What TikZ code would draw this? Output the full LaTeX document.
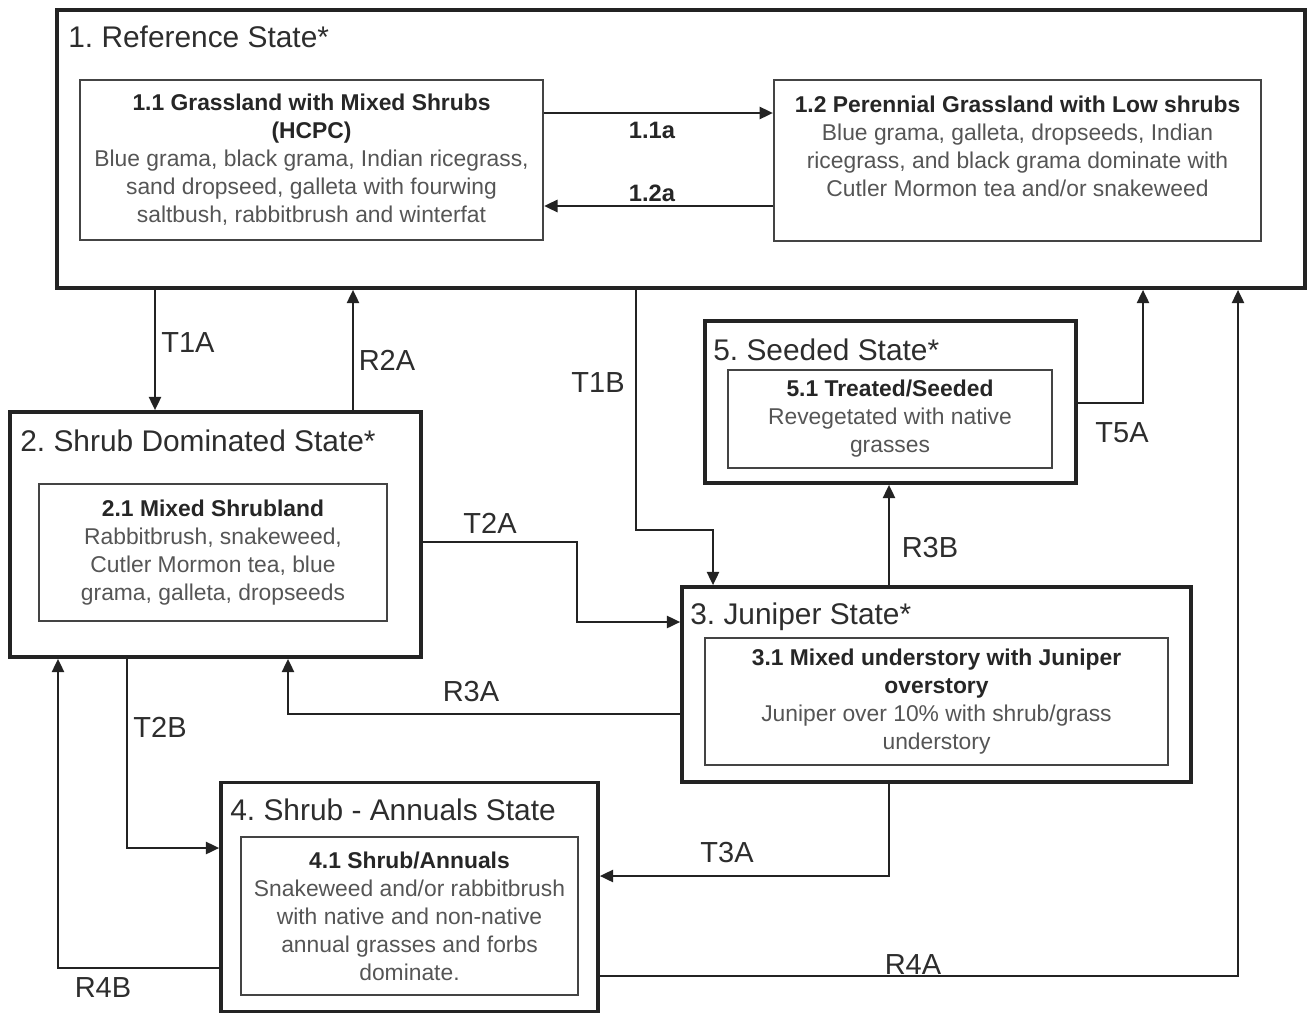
\documentclass[tikz,border=0pt]{standalone}
\usepackage{fontspec}
\setmainfont{Liberation Sans}
\usetikzlibrary{arrows.meta, positioning}
\definecolor{linegray}{RGB}{35,35,35}
\definecolor{bodygray}{RGB}{85,85,85}
\definecolor{titlegray}{RGB}{45,45,45}
\newcommand{\phasehead}[1]{{\bfseries\color{black!85}#1}}
\frenchspacing

\begin{document}
\begin{tikzpicture}[
        x=0.02cm, y=-0.02cm,
        statebox/.style={rectangle, draw=linegray, line width=2pt, inner sep=0pt},
        phasebox/.style={rectangle, draw=linegray!85, line width=1.2pt, align=center, inner sep=2pt, text=bodygray, font=\fontsize{13}{15.9}\selectfont},
        statetitle/.style={anchor=base west, inner sep=0pt, text=titlegray, font=\fontsize{17}{20}\selectfont},
        trans/.style={draw=linegray, line width=1.6pt, -{Triangle[length=0.27cm, width=0.24cm]}},
        translabel/.style={inner sep=0pt, text=titlegray, font=\fontsize{16.5}{20}\selectfont},
        phaselabel/.style={inner sep=0pt, text=black!85, font=\fontsize{13.5}{16}\selectfont\bfseries}
    ]
    \useasboundingbox (0,0) rectangle (1311,1014);

    % states
    \node[statebox, minimum width=24.96cm, minimum height=5.56cm] (s1) at (681,149) {};
    \node[statebox, minimum width=8.22cm, minimum height=4.9cm] (s2) at (215.5,534.5) {};
    \node[statebox, minimum width=10.18cm, minimum height=3.9cm] (s3) at (936.5,684.5) {};
    \node[statebox, minimum width=7.54cm, minimum height=4.58cm] (s4) at (409.5,897) {};
    \node[statebox, minimum width=7.42cm, minimum height=3.24cm] (s5) at (890.5,402) {};

    \node[statetitle] (s1t) at (68,47) {1. Reference State*};
    \node[statetitle] (s2t) at (20,451) {2. Shrub Dominated State*};
    \node[statetitle] (s3t) at (690,624) {3. Juniper State*};
    \node[statetitle] (s4t) at (230,820) {4. Shrub - Annuals State};
    \node[statetitle] (s5t) at (713,360) {5. Seeded State*};

    % community phases
    \node[phasebox, minimum width=9.26cm, minimum height=3.2cm] (p11) at (311.5,160) {\phasehead{1.1 Grassland with Mixed Shrubs}\\\phasehead{(HCPC)}\\Blue grama, black grama, Indian ricegrass,\\sand dropseed, galleta with fourwing\\saltbush, rabbitbrush and winterfat};
    \node[phasebox, minimum width=9.74cm, minimum height=3.22cm] (p12) at (1017.5,160.5) {};
    \node[phasebox, draw=none, anchor=north, inner sep=0pt] (p12t) at (1017.5,95) {\phasehead{1.2 Perennial Grassland with Low shrubs}\\Blue grama, galleta, dropseeds, Indian\\ricegrass, and black grama dominate with\\Cutler Mormon tea and/or snakeweed};
    \node[phasebox, minimum width=6.96cm, minimum height=2.74cm] (p21) at (213,552.5) {\phasehead{2.1 Mixed Shrubland}\\Rabbitbrush, snakeweed,\\Cutler Mormon tea, blue\\grama, galleta, dropseeds};
    \node[phasebox, minimum width=9.26cm, minimum height=2.54cm] (p31) at (936.5,701.5) {\phasehead{3.1 Mixed understory with Juniper}\\\phasehead{overstory}\\Juniper over 10\% with shrub/grass\\understory};
    \node[phasebox, minimum width=6.74cm, minimum height=3.16cm] (p41) at (409.5,916) {\phasehead{4.1 Shrub/Annuals}\\Snakeweed and/or rabbitbrush\\with native and non-native\\annual grasses and forbs\\dominate.};
    \node[phasebox, minimum width=6.48cm, minimum height=1.96cm] (p51) at (890,419) {\phasehead{5.1 Treated/Seeded}\\Revegetated with native\\grasses};

    % community pathways
    \draw[trans] (p11.east |- 0,113) -- (p12.west |- 0,113);
    \draw[trans] (p12.west |- 0,206) -- (p11.east |- 0,206);
    \node[phaselabel] (l11a) at (652,130) {1.1a};
    \node[phaselabel] (l12a) at (652,193) {1.2a};

    % transitions and restorations
    \draw[trans] (s1.south -| 155,0) -- (s2.north -| 155,0);
    \draw[trans] (s2.north -| 353,0) -- (s1.south -| 353,0);
    \draw[trans] (s1.south -| 636,0) |- (713,530) -- (s3.north -| 713,0);
    \draw[trans] (s2.east |- 0,542) -| (577,622) -- (s3.west |- 0,622);
    \draw[trans] (s3.north -| 889,0) -- (s5.south -| 889,0);
    \draw[trans] (s5.east |- 0,403) -| (s1.south -| 1143,0);
    \draw[trans] (s3.west |- 0,714) -| (s2.south -| 288,0);
    \draw[trans] (s2.south -| 127,0) |- (s4.west |- 0,848);
    \draw[trans] (s3.south -| 889,0) |- (s4.east |- 0,876);
    \draw[trans] (s4.west |- 0,968) -| (s2.south -| 58,0);
    \draw[trans] (s4.east |- 0,976) -| (s1.south -| 1238,0);

    \node[translabel] (lT1A) at (188,343) {T1A};
    \node[translabel] (lR2A) at (387,360) {R2A};
    \node[translabel] (lT1B) at (598,383) {T1B};
    \node[translabel] (lT2A) at (490,523) {T2A};
    \node[translabel] (lR3B) at (930,548) {R3B};
    \node[translabel] (lT5A) at (1122,433) {T5A};
    \node[translabel] (lR3A) at (471,692) {R3A};
    \node[translabel] (lT2B) at (160,727) {T2B};
    \node[translabel] (lT3A) at (727,853) {T3A};
    \node[translabel] (lR4B) at (103,988) {R4B};
    \node[translabel] (lR4A) at (913,965) {R4A};
\end{tikzpicture}
\end{document}
